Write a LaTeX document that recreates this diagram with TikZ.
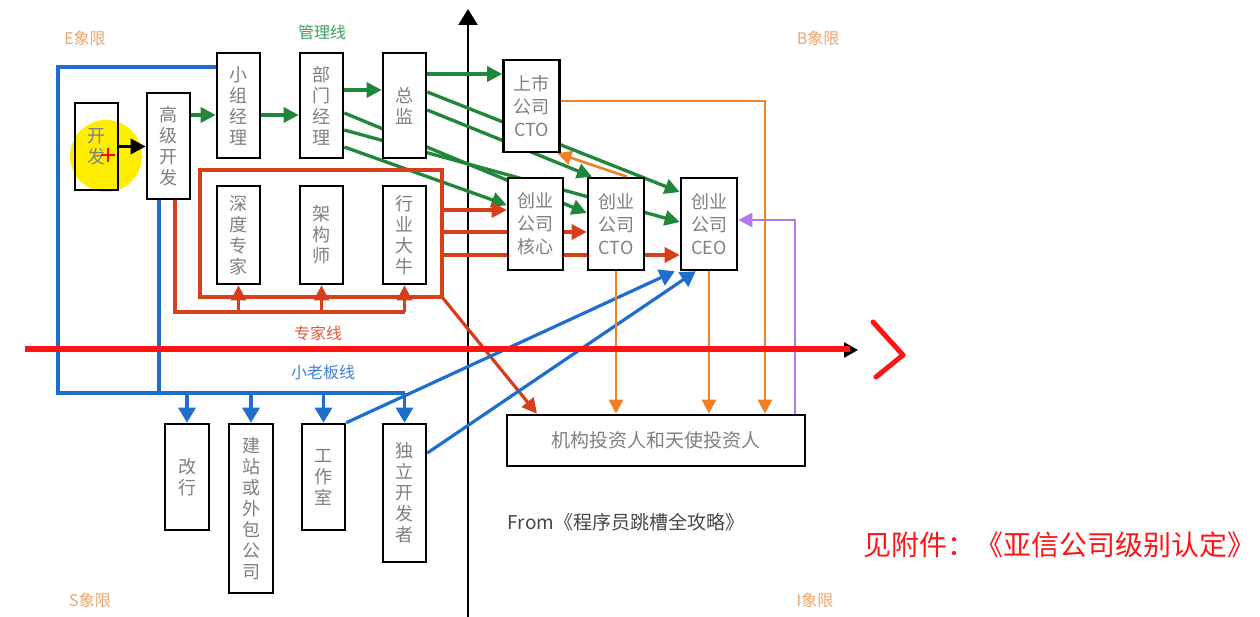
\documentclass[tikz,border=0pt]{standalone}
\usepackage{fontspec}
\setmainfont{Noto Sans CJK SC}
\usepackage{xcolor}
\usetikzlibrary{arrows.meta,positioning}
\definecolor{boxgray}{RGB}{128,128,128}
\definecolor{quadorange}{RGB}{240,165,110}
\definecolor{mgreen}{RGB}{32,135,58}
\definecolor{mgreentxt}{RGB}{60,160,90}
\definecolor{xred}{RGB}{214,62,28}
\definecolor{xredtxt}{RGB}{225,90,60}
\definecolor{bblue}{RGB}{30,110,205}
\definecolor{bbluetxt}{RGB}{60,130,215}
\definecolor{iorange}{RGB}{240,128,40}
\definecolor{cpurple}{RGB}{180,120,230}
\definecolor{bigred}{RGB}{255,20,20}
\definecolor{hlyellow}{RGB}{255,238,0}
\pgfdeclarelayer{background}
\pgfsetlayers{background,main}

\begin{document}
\begin{tikzpicture}[
x=1pt, y=-1pt,
block/.style={draw, line width=2.6pt, fill=white, text=boxgray, inner sep=0pt, align=center, minimum width=43pt, font=\fontsize{18}{21}\selectfont},
wblock/.style={block, minimum width=56pt, minimum height=92pt, font=\fontsize{18}{23}\selectfont},
tip/.style={-{Triangle[length=15pt,width=15pt]}},
garrow/.style={tip, draw=mgreen, line width=3.3pt},
rline/.style={draw=xred, line width=3.2pt},
rarrow/.style={rline, tip},
bline/.style={draw=bblue, line width=3.2pt},
barrow/.style={bline, -{Triangle[length=15pt,width=17pt]}},
oarrow/.style={draw=iorange, line width=2.6pt, -{Triangle[length=14pt,width=14pt]}},
parrow/.style={draw=cpurple, line width=2.6pt, -{Triangle[length=14pt,width=14pt]}},
axis/.style={draw=black, line width=2.5pt},
qlabel/.style={text=quadorange, font=\fontsize{16}{16}\selectfont},
linelabel/.style={font=\fontsize{16}{16}\selectfont}
]
\useasboundingbox (0,0) rectangle (1260,617);

\node[block, minimum height=87pt, fill=none] (kf) at (96.5,146.5) {开\\发};
\node[block, minimum height=106pt] (gjkf) at (168.5,146) {高\\级\\开\\发};
\node[block, minimum height=105pt] (xzjl) at (238.5,105.5) {小\\组\\经\\理};
\node[block, minimum height=105pt] (bmjl) at (321.5,105.5) {部\\门\\经\\理};
\node[block, minimum height=105pt] (zj) at (404.5,105.5) {总\\监};
\node[block, minimum height=98pt] (sdzj) at (238.5,235) {深\\度\\专\\家};
\node[block, minimum height=98pt] (jgs) at (321.5,235) {架\\构\\师};
\node[block, minimum height=98pt] (hydn) at (404.5,235) {行\\业\\大\\牛};
\node[wblock] (sscto) at (531.5,106) {上市\\公司\\CTO};
\node[wblock, minimum width=55pt] (cyhx) at (535.5,224) {创业\\公司\\核心};
\node[wblock] (cycto) at (616,224) {创业\\公司\\CTO};
\node[wblock] (cyceo) at (709,224) {创业\\公司\\CEO};
\node[block, minimum width=298pt, minimum height=51pt, font=\fontsize{19}{21}\selectfont] (inv) at (656,440.5) {机构投资人和天使投资人};
\node[block, minimum width=44pt, minimum height=106pt] (gh) at (187,477) {改\\行};
\node[block, minimum width=44pt, minimum height=169pt] (jz) at (251,508.5) {建\\站\\或\\外\\包\\公\\司};
\node[block, minimum height=106pt] (gzs) at (323.5,477) {工\\作\\室};
\node[block, minimum height=138pt] (dl) at (404.5,493) {独\\立\\开\\发\\者};

\coordinate (rTL) at (200,170);
\coordinate (rBR) at (442,297);
\coordinate (rB) at (0,312);
\coordinate (r1) at (442,210);
\coordinate (r2) at (442,232);
\coordinate (r3) at (442,255);
\coordinate (bTL) at (58,67);
\coordinate (bBL) at (58,393);
\coordinate (oC) at (765,101);
\coordinate (pC) at (795,220);

\begin{pgfonlayer}{background}
\fill[white] (0,0) rectangle (1260,617);
\node[circle, fill=hlyellow, minimum size=72pt, inner sep=0pt] (hl) at (106,156) {};
\draw[axis, -{Triangle[length=16pt,width=19pt]}] (468,617) -- (468,9);
\draw[axis, -{Triangle[length=14pt,width=15pt]}] (45,350) -- (858,350);

\draw[tip, draw=black, line width=3.3pt] (kf.east) -- (kf.east -| gjkf.west);

\draw[garrow] ([yshift=31pt]gjkf.east) -- ([yshift=-9.5pt]xzjl.west);
\draw[garrow] ([yshift=-9.5pt]xzjl.east) -- ([yshift=-9.5pt]bmjl.west);
\draw[garrow] ([yshift=15.5pt]bmjl.east) -- ([yshift=15.5pt]zj.west);
\draw[garrow] ([yshift=31.5pt]zj.east) -- ([yshift=32pt]sscto.west);
\draw[garrow] ([yshift=13.5pt]zj.east) -- ([yshift=32pt]cyceo.west);
\draw[garrow] ([yshift=-4.5pt]zj.east) -- ([xshift=-24pt]cycto.north);
\draw[garrow] ([yshift=-7.5pt]bmjl.east) -- ([yshift=11pt]cycto.west);
\draw[garrow] ([yshift=-24.5pt]bmjl.east) -- ([yshift=2pt]cyceo.west);
\draw[garrow] ([yshift=-41.5pt]bmjl.east) -- ([yshift=19pt]cyhx.west);

\draw[rline] (rTL) rectangle (rBR);
\draw[rline] ([xshift=6.5pt]gjkf.south) |- (hydn.south |- rB);
\draw[rarrow] (sdzj.south |- rB) -- (sdzj.south);
\draw[rarrow] (jgs.south |- rB) -- (jgs.south);
\draw[rarrow] (hydn.south |- rB) -- (hydn.south);
\draw[rarrow] (r1) -- (r1 -| cyhx.west);
\draw[rarrow] (r2) -- (r2 -| cycto.west);
\draw[rarrow] (r3) -- (r3 -| cyceo.west);
\draw[rarrow] (rBR) -- ([xshift=-119pt]inv.north);

\draw[bline] (xzjl.west |- bTL) -- (bTL) -- (bBL) -- (dl.north |- bBL);
\draw[bline] ([xshift=-9.5pt]gjkf.south) -- ([xshift=-9.5pt]gjkf.south |- bBL);
\draw[barrow] (gh.north |- bBL) -- (gh.north);
\draw[barrow] (jz.north |- bBL) -- (jz.north);
\draw[barrow] (gzs.north |- bBL) -- (gzs.north);
\draw[barrow] (dl.north |- bBL) -- (dl.north);
\draw[barrow] (gzs.north east) -- ([xshift=-5pt]cyceo.south west);
\draw[barrow] ([yshift=40pt]dl.east) -- ([xshift=16pt]cyceo.south west);

\draw[oarrow] (sscto.east |- oC) -- (oC) -- (oC |- inv.north);
\draw[oarrow] (cycto.south) -- (cycto.south |- inv.north);
\draw[oarrow] (cyceo.south) -- (cyceo.south |- inv.north);
\draw[oarrow] ([xshift=11pt]cycto.north) -- ([xshift=26pt]sscto.south);

\draw[parrow] (pC |- inv.north) -- (pC) -- (pC -| cyceo.east);
\end{pgfonlayer}

\draw[red, line width=1.8pt] (101,155) -- (115,155) (108,148) -- (108,162);

\draw[bigred, line width=6pt] (25,349) -- (850,349);
\draw[bigred, line width=5pt, line join=round, line cap=round] (873,322) -- (903,355) -- (876,377);

\node[qlabel] (eq) at (85,38) {E象限};
\node[qlabel] (bq) at (818,38) {B象限};
\node[qlabel] (sq) at (90,600) {S象限};
\node[qlabel] (iq) at (815,600) {I象限};
\node[linelabel, text=mgreentxt] (glbl) at (322,32) {管理线};
\node[linelabel, text=xredtxt] (rlbl) at (318,333) {专家线};
\node[linelabel, text=bbluetxt] (blbl) at (323,372) {小老板线};
\node[text=black!72, font=\fontsize{19}{19}\selectfont] (src) at (626,522) {From《程序员跳槽全攻略》};
\node[anchor=east, text=bigred, font=\fontsize{28}{30}\selectfont] (note) at (1259,545) {见附件：《亚信公司级别认定》};
\end{tikzpicture}
\end{document}
